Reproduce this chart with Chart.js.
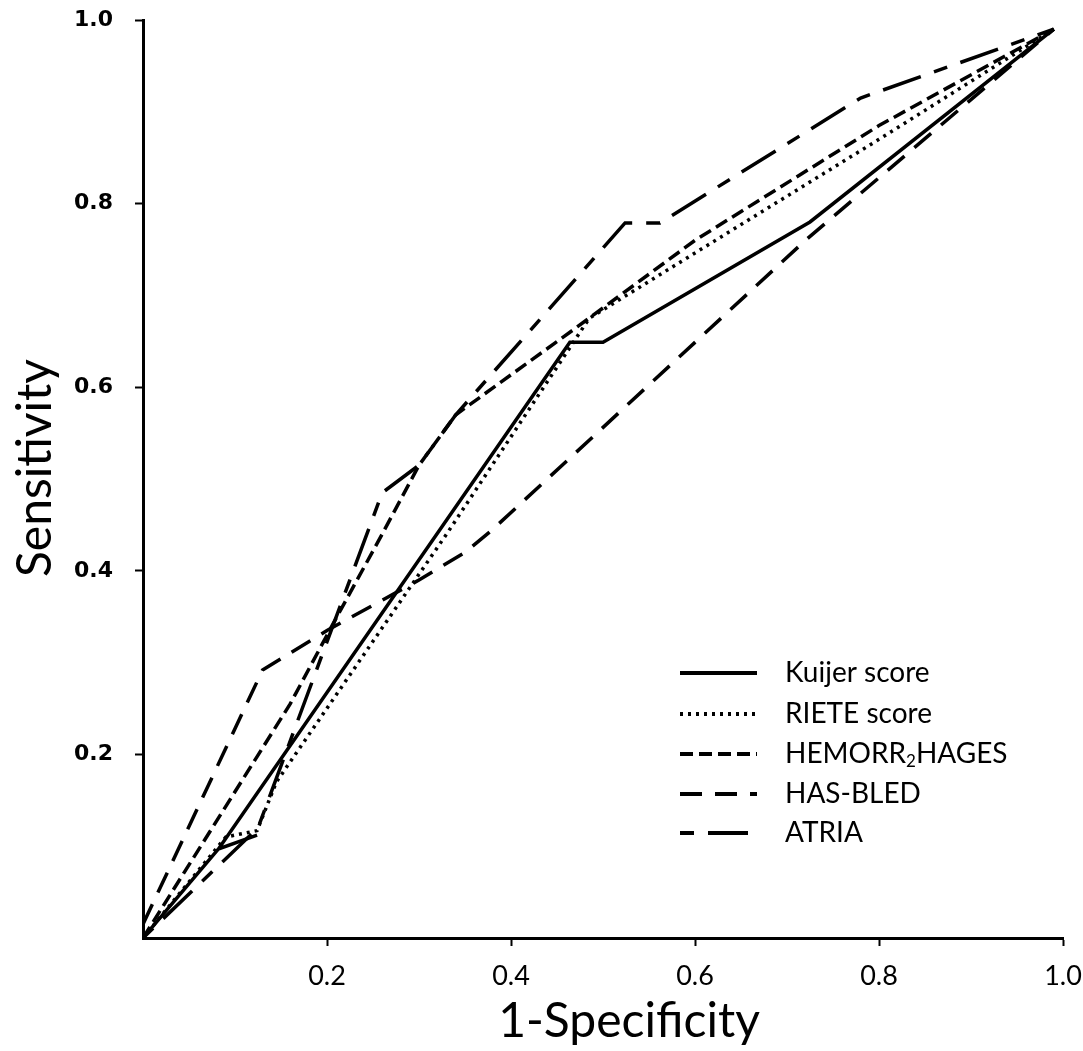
<!DOCTYPE html>
<html>
<head>
<meta charset="utf-8">
<script src="https://cdn.jsdelivr.net/npm/chart.js@4.4.1/dist/chart.umd.min.js"></script>
<style>
  html, body { margin: 0; padding: 0; background: #fff; }
  #wrap { width: 1083px; height: 1051px; }
</style>
</head>
<body>
<div id="wrap"><canvas id="rocChart" width="1083" height="1051"></canvas></div>
<script>
// ROC curves, values (1-specificity / sensitivity)
const kuijerX = [0, 0.082, 0.124, 0.082, 0.464, 0.50, 0.725, 0.99];
const kuijerY = [0, 0.097, 0.112, 0.097, 0.649, 0.649, 0.78, 0.99];

const rieteX = [0, 0.09, 0.124, 0.145, 0.33, 0.485, 0.80, 0.99];
const rieteY = [0, 0.11, 0.117, 0.17, 0.44, 0.675, 0.87, 0.99];

const hemorrX = [0, 0.16, 0.207, 0.26, 0.30, 0.34, 0.467, 0.60, 0.80, 0.99];
const hemorrY = [0, 0.255, 0.343, 0.44, 0.515, 0.57, 0.662, 0.76, 0.885, 0.99];

const hasbledX = [0, 0.13, 0.20, 0.30, 0.35, 0.38, 0.72, 0.99];
const hasbledY = [0.015, 0.292, 0.335, 0.39, 0.42, 0.445, 0.76, 0.99];

const atriaX = [0, 0.125, 0.26, 0.30, 0.34, 0.524, 0.562, 0.78, 0.99];
const atriaY = [0, 0.12, 0.485, 0.515, 0.57, 0.779, 0.779, 0.915, 0.99];

const seriesNames = ['Kuijer score', 'RIETE score', 'HEMORR2HAGES', 'HAS-BLED', 'ATRIA'];
const axisTicks = [0.2, 0.4, 0.6, 0.8, 1.0];

function toPoints(xs, ys) {
    return xs.map((x, i) => ({ x: x, y: ys[i] }));
}

const dashes = [[], [3, 5], [13, 6], [22, 13], [14, 14, 40, 14]];
const allX = [kuijerX, rieteX, hemorrX, hasbledX, atriaX];
const allY = [kuijerY, rieteY, hemorrY, hasbledY, atriaY];

const datasets = seriesNames.map((name, i) => ({
    label: name,
    data: toPoints(allX[i], allY[i]),
    showLine: true,
    borderColor: '#000',
    borderWidth: 3.5,
    borderDash: dashes[i],
    pointRadius: 0,
    tension: 0,
    fill: false
}));

// legend inside the plot + axis titles placed like the original
const lineLegend = {
    id: 'lineLegend',
    afterDraw(chart) {
        const ctx = chart.ctx;
        const x0 = 680, x1 = 757, tx = 785;
        const rows = [673, 714, 754, 794, 833];
        ctx.save();
        ctx.fillStyle = '#000';
        ctx.strokeStyle = '#000';
        ctx.textBaseline = 'middle';
        chart.data.datasets.forEach((ds, i) => {
            const y = rows[i];
            ctx.lineWidth = 4;
            ctx.setLineDash(ds.borderDash);
            ctx.beginPath();
            ctx.moveTo(x0, y);
            ctx.lineTo(x1, y);
            ctx.stroke();
            ctx.setLineDash([]);
            ctx.font = '28px Lato';
            if (ds.label === 'HEMORR2HAGES') {
                let x = tx;
                ctx.fillText('HEMORR', x, y);
                x += ctx.measureText('HEMORR').width;
                ctx.font = '17px Lato';
                ctx.fillText('2', x, y + 8);
                x += ctx.measureText('2').width;
                ctx.font = '28px Lato';
                ctx.fillText('HAGES', x, y);
            } else {
                ctx.fillText(ds.label, tx, y);
            }
        });

        // axis titles
        ctx.font = '48px Lato';
        ctx.textAlign = 'center';
        ctx.fillText('1-Specificity', 629, 1022);
        ctx.translate(36, 468);
        ctx.rotate(-Math.PI / 2);
        ctx.fillText('Sensitivity', 0, 0);
        ctx.restore();
    }
};

const ctx = document.getElementById('rocChart').getContext('2d');
new Chart(ctx, {
    type: 'scatter',
    data: { datasets: datasets },
    plugins: [lineLegend],
    options: {
        responsive: false,
        animation: false,
        layout: { padding: { top: 20, right: 20, left: 0, bottom: 0 } },
        plugins: {
            legend: { display: false },
            tooltip: { enabled: false }
        },
        scales: {
            x: {
                type: 'linear',
                min: 0,
                max: 1,
                afterBuildTicks: (scale) => { scale.ticks = axisTicks.map(v => ({ value: v })); },
                ticks: {
                    callback: (v) => v.toFixed(1),
                    color: '#000',
                    font: { family: 'Lato', size: 27 },
                    padding: 14,
                    maxRotation: 0
                },
                grid: { drawOnChartArea: false, tickLength: 8, tickWidth: 2, color: '#000' },
                border: { color: '#000', width: 3 },
                afterFit: (scale) => {
                    scale.height = 113;
                    scale.paddingLeft = 0;
                    scale.paddingRight = 0;
                }
            },
            y: {
                type: 'linear',
                min: 0,
                max: 1,
                afterBuildTicks: (scale) => { scale.ticks = axisTicks.map(v => ({ value: v })); },
                ticks: {
                    callback: (v) => v.toFixed(1),
                    color: '#000',
                    font: { family: 'DejaVu Sans', size: 22, weight: 'bold' },
                    padding: 22
                },
                grid: { drawOnChartArea: false, tickLength: 8, tickWidth: 2, color: '#000' },
                border: { color: '#000', width: 3 },
                afterFit: (scale) => {
                    scale.width = 143;
                    scale.paddingTop = 0;
                    scale.paddingBottom = 0;
                }
            }
        }
    }
});
</script>
</body>
</html>
